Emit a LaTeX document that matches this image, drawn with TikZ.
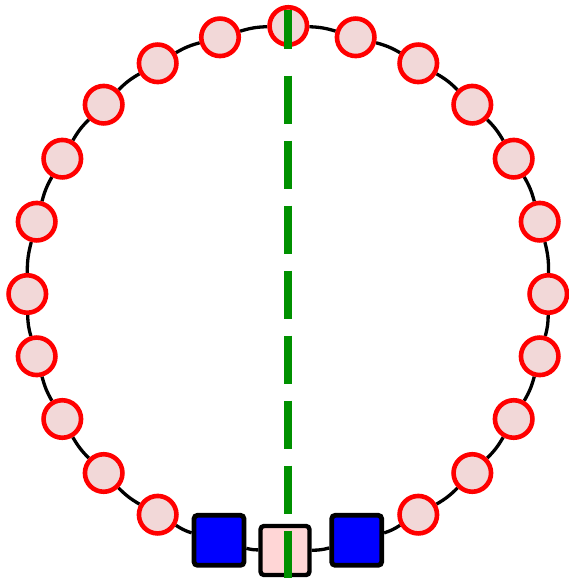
\documentclass[tikz,border=0pt]{standalone}
\usetikzlibrary{backgrounds}
\begin{document}
\begin{tikzpicture}[x=1pt,y=-1pt,
  ringnode/.style={circle,draw=red,fill=circfill,line width=4.6pt,minimum size=37.5pt,inner sep=0pt},
  bluebox/.style={rectangle,rounded corners=3.5pt,draw=black,fill=blue,line width=4.8pt,minimum size=50pt,inner sep=0pt},
  pinkbox/.style={rectangle,rounded corners=3.5pt,draw=black,fill=sqfill,line width=4.4pt,minimum size=49pt,inner sep=0pt},
  ringedge/.style={draw=black,line width=3.3pt,bend left=7.5},
  divider/.style={draw=divgreen,line width=8pt}]
\definecolor{circfill}{RGB}{242,216,216}
\definecolor{sqfill}{RGB}{255,214,214}
\definecolor{divgreen}{RGB}{0,145,0}
\useasboundingbox (0,0) rectangle (568,578);
\node[ringnode] (n0) at (288.3,26) {};
\node[ringnode] (n1) at (355.7,37.3) {};
\node[ringnode] (n2) at (418.3,63.3) {};
\node[ringnode] (n3) at (472.3,104.7) {};
\node[ringnode] (n4) at (513.7,158.7) {};
\node[ringnode] (n5) at (539.7,221.7) {};
\node[ringnode] (n6) at (548.3,294) {};
\node[ringnode] (n7) at (539.7,356.3) {};
\node[ringnode] (n8) at (513.7,419) {};
\node[ringnode] (n9) at (472.3,473) {};
\node[ringnode] (n10) at (418.3,514.7) {};
\node[bluebox] (n11) at (356.7,540.3) {};
\node[pinkbox] (n12) at (285,550.5) {};
\node[bluebox] (n13) at (219,540.3) {};
\node[ringnode] (n14) at (157.7,514.7) {};
\node[ringnode] (n15) at (103.7,473) {};
\node[ringnode] (n16) at (62.3,419) {};
\node[ringnode] (n17) at (36.7,356.3) {};
\node[ringnode] (n18) at (27.3,294) {};
\node[ringnode] (n19) at (36.7,221.7) {};
\node[ringnode] (n20) at (62.3,158.7) {};
\node[ringnode] (n21) at (103.7,104.7) {};
\node[ringnode] (n22) at (157.7,63.3) {};
\node[ringnode] (n23) at (220,37.3) {};
\begin{scope}[on background layer]
\foreach \a/\b in {0/1,1/2,2/3,3/4,4/5,5/6,6/7,7/8,8/9,9/10,10/11,11/12,12/13,13/14,14/15,15/16,16/17,17/18,18/19,19/20,20/21,21/22,22/23,23/0}
  \draw[ringedge] (n\a) to (n\b);
\end{scope}
\coordinate (gtop) at (288,10);
\coordinate (gbot) at (288,580);
\draw[divider,dash pattern=on 39pt off 26.7pt on 48.3pt off 16.7pt on 48.3pt off 16.7pt on 48.3pt off 16.7pt on 48.3pt off 16.7pt on 48.3pt off 16.7pt on 48.3pt off 16.7pt on 48.3pt off 16.7pt on 60pt off 10pt] (gtop) -- (gbot);
\end{tikzpicture}
\end{document}
